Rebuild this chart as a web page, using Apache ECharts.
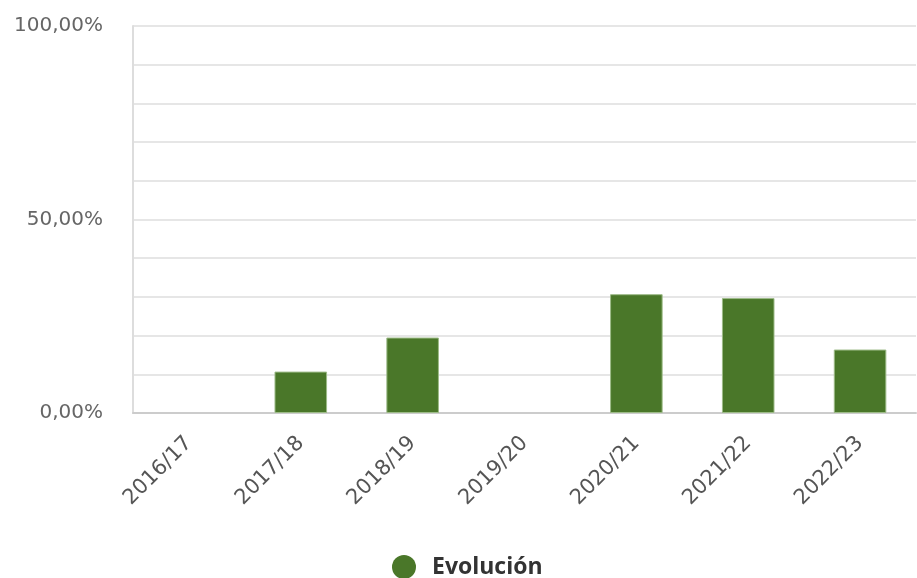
<!DOCTYPE html>
<html>
<head>
<meta charset="utf-8">
<script src="https://cdn.jsdelivr.net/npm/echarts@6/dist/echarts.min.js"></script>
<style>
  html, body { margin: 0; padding: 0; background: #fff; }
  #chart { width: 917px; height: 578px; }
</style>
</head>
<body>
<div id="chart"></div>
<script>
// datos
const temporadas = ['2016/17', '2017/18', '2018/19', '2019/20', '2020/21', '2021/22', '2022/23'];
const evolucion = [0, 10.7, 19.5, 0, 30.7, 29.7, 16.4];
const etiquetasY = [0, 50, 100];

const chart = echarts.init(document.getElementById('chart'));

const option = {
    animation: false,
    textStyle: { fontFamily: 'DejaVu Sans' },
    grid: { left: 133, right: 1, top: 26, bottom: 165 },
    legend: {
        top: 555,
        left: 392,
        padding: 0,
        icon: 'circle',
        itemWidth: 24,
        itemHeight: 24,
        textStyle: { fontSize: 23, fontWeight: 'bold', color: '#333', fontFamily: 'Open Sans', padding: [0, 0, 0, 11] },
        data: ['Evolución']
    },
    xAxis: {
        type: 'category',
        data: temporadas,
        axisLine: { lineStyle: { color: '#ccc', width: 2 } },
        axisTick: { show: false },
        axisLabel: {
            rotate: 45,
            fontSize: 21,
            color: '#555',
            margin: 27
        }
    },
    yAxis: {
        type: 'value',
        min: 0,
        max: 100,
        interval: 10,
        axisLine: { show: true, lineStyle: { color: '#ddd', width: 2 } },
        axisTick: { show: false },
        splitLine: { lineStyle: { color: '#e6e6e6', width: 2 } },
        axisLabel: {
            fontSize: 20,
            color: '#666',
            margin: 30,
            formatter: function (v) {
                return etiquetasY.includes(v) ? v.toFixed(2).replace('.', ',') + '%' : '';
            }
        }
    },
    series: [{
        name: 'Evolución',
        type: 'bar',
        barWidth: '47%',
        itemStyle: { color: '#4a7729', borderColor: '#9dbb88' },
        data: evolucion.map(v => ({ value: v, itemStyle: { borderWidth: v > 0 ? 1 : 0 } }))
    }]
};

chart.setOption(option);
</script>
</body>
</html>
